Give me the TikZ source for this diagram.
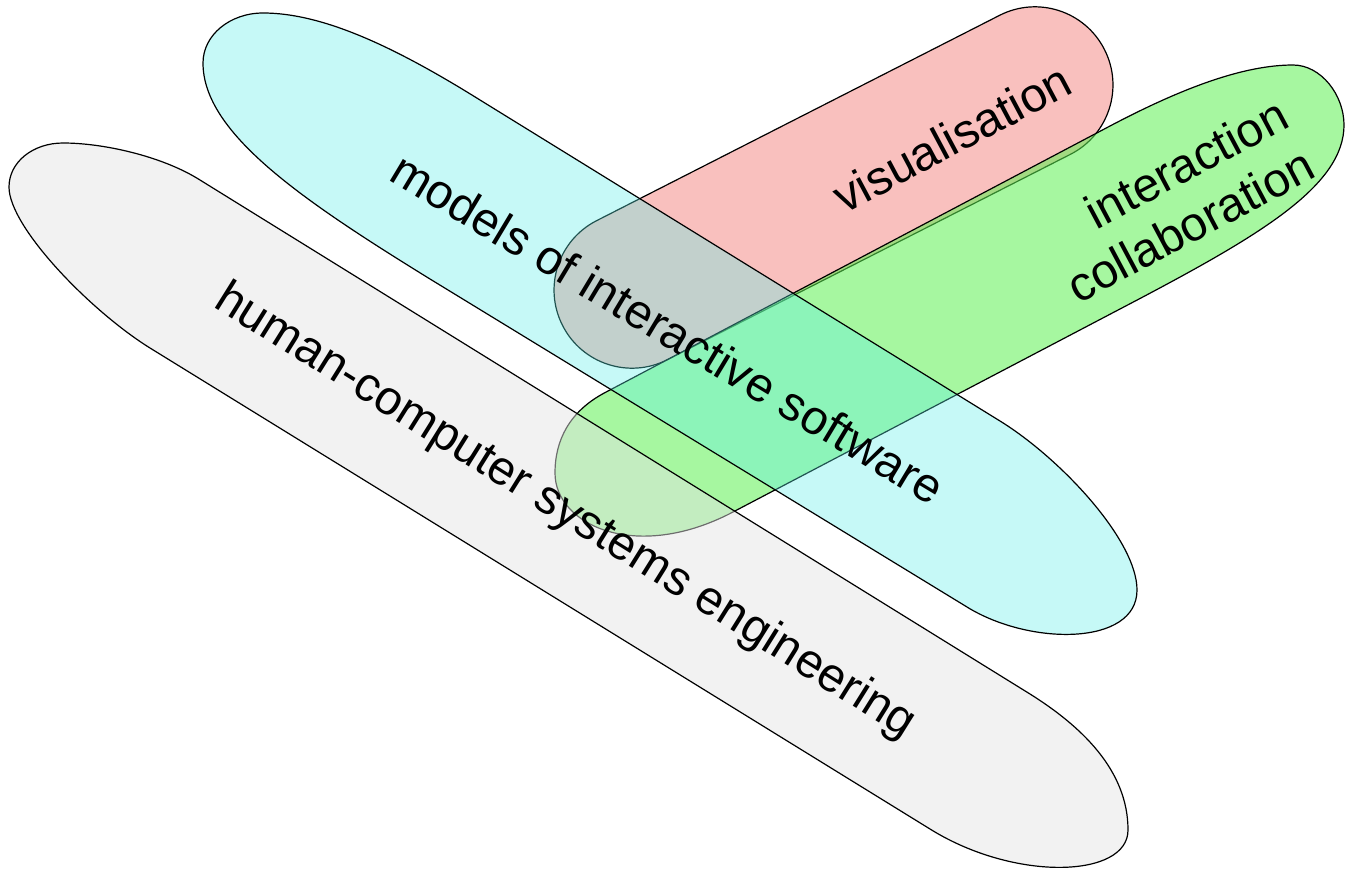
\documentclass[tikz,border=0pt]{standalone}
\usepackage{fontspec}
\setmainfont{Liberation Sans}
\definecolor{pinkfill}{RGB}{249,192,190}
\definecolor{greenfill}{RGB}{93,240,82}
\definecolor{greyfill}{RGB}{228,228,228}
\definecolor{cyanfill}{RGB}{92,238,232}
\begin{document}
\begin{tikzpicture}[x=0.75pt,y=-0.75pt,
  shapeline/.style={draw=black,line width=0.9pt,line join=round},
  lbl/.style={font=\fontsize{36}{42.4}\selectfont,align=center,inner sep=0pt}]
\useasboundingbox (0,0) rectangle (1345,871);
% visualisation (bottom layer)
\draw[shapeline,fill=pinkfill,rounded corners=58.4pt,rotate around={27:(833.5,187.5)}]
  (529.45,109.5) rectangle (1137.55,265.5);
% interaction / collaboration
\draw[shapeline,fill=greenfill,fill opacity=0.55]
  (605,392.6) -- (1110,126)
  .. controls (1181,88.6) and (1243,65) .. (1293,65)
  .. controls (1321,65) and (1344,95) .. (1344,125)
  .. controls (1344,185) and (1262,234) .. (1140,298.5)
  -- (733,512)
  .. controls (636,563) and (555,525) .. (555,473)
  .. controls (555,440) and (569.6,411.3) .. (605,392.6) -- cycle;
% human-computer systems engineering
\draw[shapeline,fill=greyfill,fill opacity=0.48]
  (200,180) -- (1030,694)
  .. controls (1081,726) and (1128,770) .. (1128,830)
  .. controls (1128,878) and (1015,882) .. (930,829)
  -- (150,348)
  .. controls (90.5,311) and (9,227) .. (9,187)
  .. controls (9,162) and (33,143) .. (63,143)
  .. controls (103,143) and (162,156) .. (200,180) -- cycle;
% models of interactive software
\draw[shapeline,fill=cyanfill,fill opacity=0.35]
  (480,100) -- (1000,421)
  .. controls (1060,458) and (1137,540) .. (1137,590)
  .. controls (1137,646) and (1030,646) .. (967,607)
  -- (430,279)
  .. controls (302,200) and (203,133) .. (203,63)
  .. controls (203,35) and (230,13) .. (263,13)
  .. controls (323,13) and (395,47) .. (480,100) -- cycle;
% labels
\node[lbl,rotate=-31] (models) at (668,328) {models of interactive software};
\node[lbl,rotate=-32] (hcse) at (565,512) {human-computer systems engineering};
\node[lbl,rotate=28] (vis) at (952,138) {visualisation};
\node[lbl,rotate=28,align=right] (ic) at (1177,200) {interaction\\collaboration};
\end{tikzpicture}
\end{document}
